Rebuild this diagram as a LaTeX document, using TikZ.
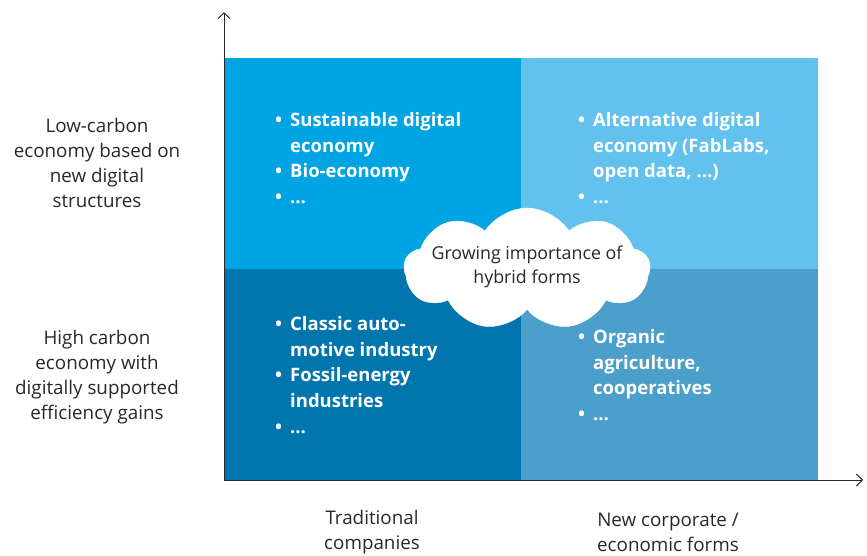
\documentclass[tikz,border=0pt]{standalone}
\usepackage{fontspec}
\setmainfont{Open Sans}
\usetikzlibrary{arrows.meta,shapes.symbols}
\definecolor{qtl}{RGB}{0,164,226}
\definecolor{qtr}{RGB}{98,193,237}
\definecolor{qbl}{RGB}{0,117,174}
\definecolor{qbr}{RGB}{75,159,203}
\definecolor{txt}{RGB}{40,40,40}
\tikzset{
  axis/.style={draw=txt, line width=0.9pt, -{Straight Barb[length=6pt,width=12pt,line width=0.9pt]}},
  sidelabel/.style={align=center, text=txt, font=\fontsize{18.8}{25.2}\selectfont, inner sep=0pt},
  bullets/.style={anchor=north west, text=white, inner sep=0pt, font=\fontsize{18.5}{25.8}\selectfont\bfseries, align=left},
  quad/.style={inner sep=0pt, minimum width=297pt, minimum height=211pt, anchor=north west},
  cloudshape/.style={cloud, cloud puffs=9, cloud puff arc=115, aspect=2.2, fill=white, draw=white, minimum width=246pt, minimum height=122pt, inner sep=0pt},
  cloudtext/.style={align=center, text=txt, inner sep=0pt, font=\fontsize{17.8}{24}\selectfont}
}
\newcommand{\bl}{\makebox[15pt][l]{\textbullet}}
\begin{document}
\begin{tikzpicture}[x=1pt,y=-1pt]
\useasboundingbox (0,0) rectangle (867,555);
\node[quad, fill=qtl] (tl) at (224,58) {};
\node[quad, fill=qtr] (tr) at (521,58) {};
\node[quad, fill=qbl] (bl) at (224,269) {};
\node[quad, fill=qbr] (br) at (521,269) {};
\coordinate (o) at (224,480);
\coordinate (ytop) at (224,12);
\coordinate (xend) at (863,480);
\draw[axis] (o) -- (ytop);
\draw[axis] (o) -- (xend);
\node[bullets] (tltext) at (275,112) {\bl Sustainable digital\\\hspace*{15pt}economy\\\bl Bio-economy\\\bl \dots};
\node[bullets] (trtext) at (578,112) {\bl Alternative digital\\\hspace*{15pt}economy (FabLabs,\\\hspace*{15pt}open data, \dots)\\\bl \dots};
\node[bullets] (bltext) at (275,316) {\bl Classic auto-\\\hspace*{15pt}motive industry\\\bl Fossil-energy\\\hspace*{15pt}industries\\\bl \dots};
\node[bullets] (brtext) at (578,329) {\bl Organic\\\hspace*{15pt}agriculture,\\\hspace*{15pt}cooperatives\\\bl \dots};
\node[cloudshape] (cl) at (527,269) {};
\node[cloudtext] (cltext) at (cl.center) [yshift=2pt] {Growing importance of\\hybrid forms};
\node[sidelabel] (lowc) at (97,163) {Low-carbon\\economy based on\\new digital\\structures};
\node[sidelabel] (highc) at (97,377) {High carbon\\economy with\\digitally supported\\efficiency gains};
\node[sidelabel] (trad) at (372,532) {Traditional\\companies};
\node[sidelabel] (newc) at (668,532) {New corporate /\\economic forms};
\end{tikzpicture}
\end{document}
